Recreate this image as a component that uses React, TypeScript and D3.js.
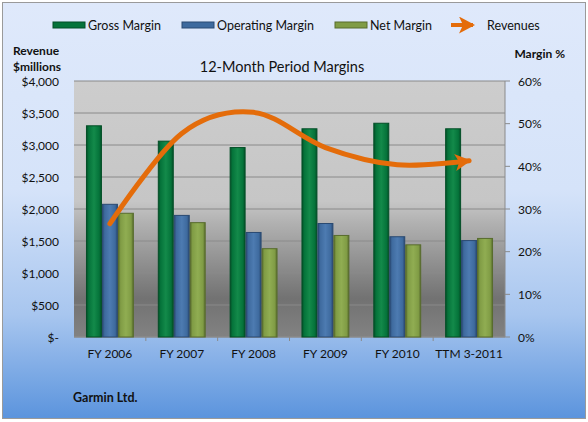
import React from "react";
import * as d3 from "d3";

const periods = ["FY 2006", "FY 2007", "FY 2008", "FY 2009", "FY 2010", "TTM 3-2011"];
const grossMargin = [49.5, 45.9, 44.4, 48.8, 50.1, 48.8];
const operatingMargin = [31.1, 28.5, 24.5, 26.6, 23.5, 22.6];
const netMargin = [29.0, 26.8, 20.7, 23.8, 21.6, 23.1];
const revenues = [1770, 3180, 3510, 2960, 2690, 2755];

const revenueTicks = [0, 500, 1000, 1500, 2000, 2500, 3000, 3500, 4000];
const marginTicks = [0, 10, 20, 30, 40, 50, 60];

const series = [
  { name: "Gross Margin", values: grossMargin, fill: "#05733a", edge: "#034f27", light: "#138a4a" },
  { name: "Operating Margin", values: operatingMargin, fill: "#3e6a9e", edge: "#2a4a72", light: "#4d7bb1" },
  { name: "Net Margin", values: netMargin, fill: "#809c45", edge: "#586c2d", light: "#90ad52" },
];

const W = 588;
const H = 422;
const plot = { left: 74, right: 505, top: 81, bottom: 337 };
const FONT = "Lato, 'Open Sans', sans-serif";
const ORANGE = "#e46c0a";

const fmtRevenue = (v: number) => (v === 0 ? "$-" : "$" + d3.format(",")(v));

export default function App() {
  const x = d3
    .scaleBand<string>()
    .domain(periods)
    .range([plot.left, plot.right])
    .paddingInner(1 / 3)
    .paddingOuter(1 / 6);
  const xSeries = d3
    .scaleBand<string>()
    .domain(series.map((s) => s.name))
    .range([0, x.bandwidth()]);
  const yRev = d3.scaleLinear().domain([0, 4000]).range([plot.bottom, plot.top]);
  const yPct = d3.scaleLinear().domain([0, 60]).range([plot.bottom, plot.top]);

  const line = d3
    .line<number>()
    .x((_, i) => (x(periods[i]) as number) + x.bandwidth() / 2)
    .y((d) => yRev(d))
    .curve(d3.curveCatmullRom.alpha(0));

  const legendItems = [
    { swatch: 53, text: 88, kind: 0 },
    { swatch: 182, text: 217, kind: 1 },
    { swatch: 335, text: 370, kind: 2 },
    { swatch: 451, text: 487, kind: 3 },
  ];
  const legendY = 25;

  return (
    <svg
      width={W}
      height={H}
      style={{ position: "absolute", left: 0, top: 0, fontFamily: FONT }}
    >
      <defs>
        <linearGradient id="bg" x1="0" y1="0" x2="0" y2="1">
          <stop offset="0" stopColor="#dfe9fb" />
          <stop offset="0.45" stopColor="#d5e3f9" />
          <stop offset="0.75" stopColor="#a8c6ef" />
          <stop offset="1" stopColor="#5b94dd" />
        </linearGradient>
        <linearGradient id="plotBg" x1="0" y1="0" x2="0" y2="1">
          <stop offset="0" stopColor="#cdcdcd" />
          <stop offset="0.47" stopColor="#c6c6c6" />
          <stop offset="0.55" stopColor="#b2b2b2" />
          <stop offset="0.85" stopColor="#727272" />
          <stop offset="1" stopColor="#828282" />
        </linearGradient>
        {series.map((s, i) => (
          <linearGradient key={i} id={`bar${i}`} x1="0" y1="0" x2="1" y2="0">
            <stop offset="0" stopColor={s.edge} />
            <stop offset="0.15" stopColor={s.fill} />
            <stop offset="0.5" stopColor={s.light} />
            <stop offset="0.85" stopColor={s.fill} />
            <stop offset="1" stopColor={s.edge} />
          </linearGradient>
        ))}
        <marker
          id="arrow"
          markerUnits="userSpaceOnUse"
          viewBox="0 0 16 17"
          markerWidth={16}
          markerHeight={17}
          refX={14}
          refY={8.5}
          orient="auto"
        >
          <path d="M0,0 L16,8.5 L0,17 L4,8.5 Z" fill={ORANGE} />
        </marker>
      </defs>

      {/* chart background */}
      <rect x={2.5} y={2.5} width={583} height={416} fill="url(#bg)" stroke="#9a9a9a" />

      {/* legend */}
      {legendItems.map((l, i) => (
        <g key={i}>
          {l.kind < 3 ? (
            <rect
              x={l.swatch}
              y={legendY - 3}
              width={32}
              height={6}
              fill={series[l.kind].fill}
              stroke={series[l.kind].edge}
            />
          ) : (
            <line
              x1={l.swatch}
              y1={legendY}
              x2={l.swatch + 22}
              y2={legendY}
              stroke={ORANGE}
              strokeWidth={4}
              markerEnd="url(#arrow)"
            />
          )}
          <text x={l.text} y={legendY + 4.5} fontSize={12.5} fill="#111">
            {l.kind < 3 ? series[l.kind].name : "Revenues"}
          </text>
        </g>
      ))}

      {/* axis titles */}
      <text x={13} y={55} fontSize={12} fontWeight="bold" fill="#111">Revenue</text>
      <text x={13} y={71} fontSize={12} fontWeight="bold" fill="#111">$millions</text>
      <text x={565} y={58} fontSize={12} fontWeight="bold" fill="#111" textAnchor="end">Margin %</text>
      <text x={282} y={72} fontSize={14.5} fill="#111" textAnchor="middle">12-Month Period Margins</text>

      {/* plot area */}
      <rect
        x={plot.left}
        y={plot.top}
        width={plot.right - plot.left}
        height={plot.bottom - plot.top}
        fill="url(#plotBg)"
      />
      {revenueTicks.map((t) => (
        <line
          key={t}
          x1={plot.left}
          x2={plot.right}
          y1={yRev(t)}
          y2={yRev(t)}
          stroke="#8a8a8a"
          strokeWidth={1}
        />
      ))}
      <line x1={plot.right} x2={plot.right} y1={plot.top} y2={plot.bottom} stroke="#8a8a8a" />
      <line x1={plot.left} x2={plot.right} y1={plot.bottom} y2={plot.bottom} stroke="#8a8a8a" />
      {periods.slice(1).map((p) => {
        const bx = (x(p) as number) - (x.step() - x.bandwidth()) / 2;
        return (
          <line key={p} x1={bx} x2={bx} y1={plot.bottom} y2={plot.bottom + 4} stroke="#8a8a8a" />
        );
      })}

      {/* left axis labels */}
      {revenueTicks.map((t) => (
        <text
          key={t}
          x={59}
          y={yRev(t) + 4.5}
          fontSize={12}
          fill="#111"
          textAnchor="end"
        >
          {fmtRevenue(t)}
        </text>
      ))}

      {/* right axis */}
      {marginTicks.map((t) => (
        <g key={t}>
          <line x1={plot.right} x2={plot.right + 5} y1={yPct(t)} y2={yPct(t)} stroke="#8a8a8a" />
          <text x={518} y={yPct(t) + 4.5} fontSize={12} fill="#111">
            {t}%
          </text>
        </g>
      ))}

      {/* bars */}
      {series.map((s, si) =>
        s.values.map((v, i) => {
          const bx = (x(periods[i]) as number) + (xSeries(s.name) as number);
          const by = yPct(v);
          return (
            <rect
              key={`${si}-${i}`}
              x={bx + 0.5}
              y={by}
              width={xSeries.bandwidth() - 1}
              height={plot.bottom - by}
              fill={`url(#bar${si})`}
              stroke={s.edge}
              strokeWidth={1}
            />
          );
        })
      )}

      {/* revenue line */}
      <path
        d={line(revenues) ?? ""}
        fill="none"
        stroke={ORANGE}
        strokeWidth={5}
        strokeLinecap="round"
        markerEnd="url(#arrow)"
      />

      {/* category labels */}
      {periods.map((p) => (
        <text
          key={p}
          x={(x(p) as number) + x.bandwidth() / 2}
          y={358}
          fontSize={12}
          fill="#111"
          textAnchor="middle"
        >
          {p}
        </text>
      ))}

      <text x={73} y={402} fontSize={12.5} fontWeight="bold" fill="#111">Garmin Ltd.</text>
    </svg>
  );
}
